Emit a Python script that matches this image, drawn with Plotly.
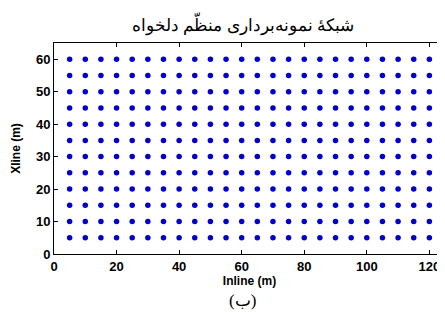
import plotly.graph_objects as go

inline_positions = [5, 10, 15, 20, 25, 30, 35, 40, 45, 50, 55, 60,
                    65, 70, 75, 80, 85, 90, 95, 100, 105, 110, 115, 120]
xline_positions = [5, 10, 15, 20, 25, 30, 35, 40, 45, 50, 55, 60]
x_ticks = [0, 20, 40, 60, 80, 100, 120]
y_ticks = [0, 10, 20, 30, 40, 50, 60]
title_text = "شبکهٔ نمونه‌برداری منظّم دلخواه"
x_label = "Inline (m)"
y_label = "Xline (m)"
caption = "(ب)"

xs, ys = [], []
for yv in xline_positions:
    for xv in inline_positions:
        xs.append(xv)
        ys.append(yv)

fig = go.Figure(go.Scatter(
    x=xs, y=ys, mode="markers",
    marker=dict(color="#0000CC", size=5.5, line=dict(width=0)),
    hoverinfo="skip", showlegend=False,
))

tickfont = dict(family="Liberation Sans, Arial, sans-serif", size=13, color="black", weight="bold")
titlefont = dict(family="Liberation Sans, Arial, sans-serif", size=12, color="black", weight="bold")
serif = "Times New Roman, Liberation Serif, DejaVu Serif, serif"

# page body has an 8px default margin; figure sized to fit the 445x312 window
fig.update_layout(
    width=437, height=304,
    margin=dict(l=46, r=0, t=35, b=58, autoexpand=False),
    paper_bgcolor="white", plot_bgcolor="white",
    title=dict(text=title_text, x=0.538, xanchor="center", y=0.944, yanchor="middle", automargin=False,
               font=dict(family=serif, size=17, color="black")),
    annotations=[dict(text=caption, xref="paper", yref="paper", x=0.481, y=-0.222,
                      xanchor="center", yanchor="middle", showarrow=False,
                      font=dict(family=serif, size=17, color="black"))],
)
fig.update_xaxes(
    range=[0, 125], tickvals=x_ticks, ticks="inside", ticklen=4, tickcolor="black",
    showline=True, linecolor="black", linewidth=1, mirror="ticks", showgrid=False, zeroline=False,
    automargin=False,
    tickfont=tickfont, title=dict(text=x_label, font=titlefont, standoff=2),
)
fig.update_yaxes(
    range=[0, 65], tickvals=y_ticks, ticks="inside", ticklen=4, tickcolor="black",
    showline=True, linecolor="black", linewidth=1, mirror="ticks", showgrid=False, zeroline=False,
    automargin=False,
    tickfont=tickfont, title=dict(text=y_label, font=titlefont, standoff=12),
)

fig.write_html("out.html")
